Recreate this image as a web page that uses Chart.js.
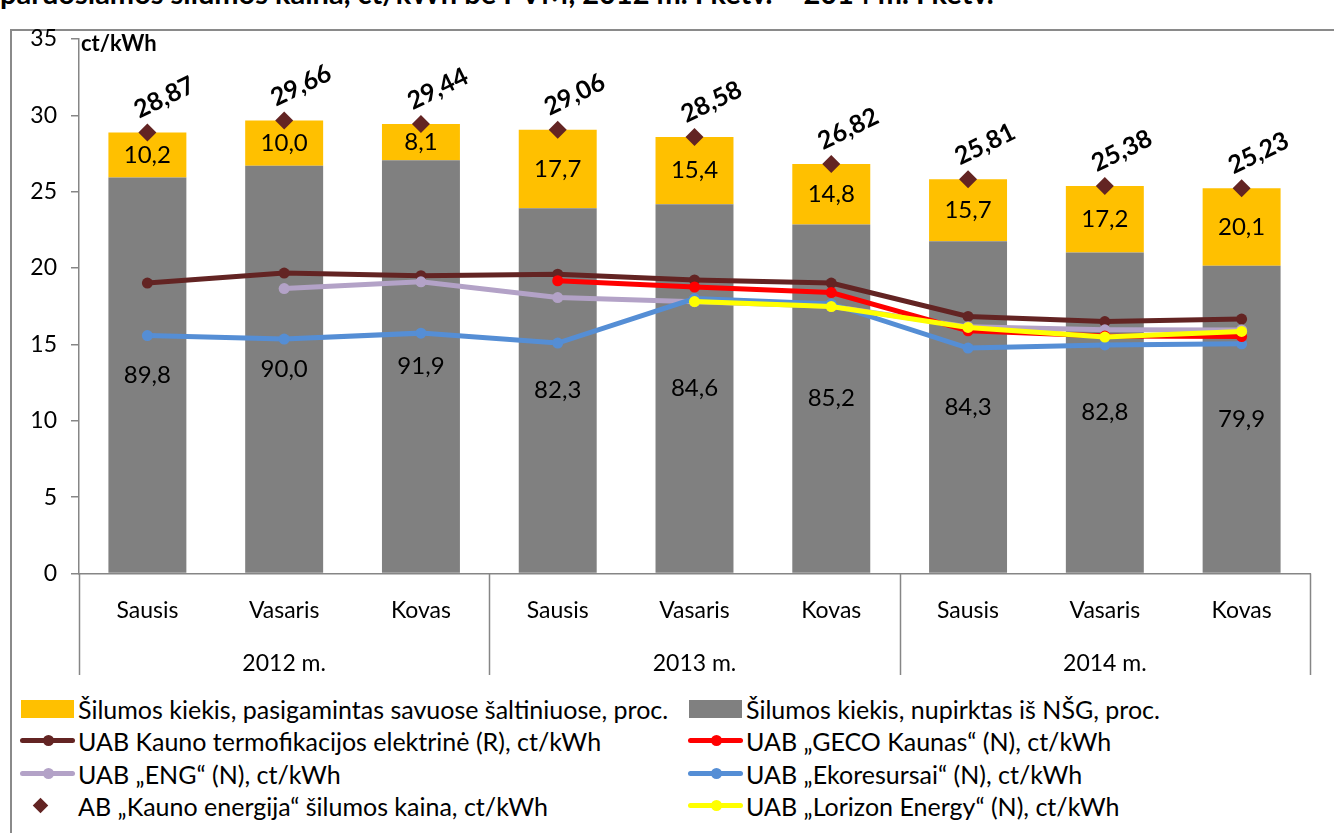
<!DOCTYPE html>
<html lang="lt">
<head>
<meta charset="utf-8">
<script src="https://cdn.jsdelivr.net/npm/chart.js@4.4.1/dist/chart.umd.min.js"></script>
<style>
    body { margin: 0; width: 1334px; height: 833px; overflow: hidden; background: #fff; position: relative; font-family: Lato, sans-serif; }
    #frame { position: absolute; left: 10px; top: 29px; width: 1400px; height: 900px; border: 2px solid #8a8a8a; }
    #title { position: absolute; left: 0; top: -22px; font-weight: bold; font-size: 29px; line-height: 30px; white-space: nowrap; }
    #chart { position: absolute; left: 0; top: 0; }
    #unit { position: absolute; left: 81px; top: 29px; font-weight: bold; font-size: 22px; }
    .lg { position: absolute; height: 30px; display: flex; align-items: center; font-size: 25px; white-space: nowrap; }
    .sym { position: relative; width: 55px; height: 30px; margin-right: 3px; flex: none; }
    .box { position: absolute; left: 1px; top: 6px; width: 53px; height: 18px; }
    .ln { position: absolute; left: 0; top: 12px; width: 55px; height: 5px; border-radius: 3px; }
    .dot { position: absolute; left: 23px; top: 9px; width: 11px; height: 11px; border-radius: 50%; }
    .dia { position: absolute; left: 15px; top: 9px; width: 11px; height: 11px; transform: rotate(45deg); }
</style>
</head>
<body>
<div id="frame"></div>
<div id="title">paruošiamos šilumos kaina, ct/kWh be PVM, 2012 m. I ketv. – 2014 m. I ketv.</div>
<canvas id="chart" width="1334" height="690"></canvas>
<div id="unit">ct/kWh</div>
<div id="legend"></div>
<script>
document.addEventListener('DOMContentLoaded', function() {
    // Data
    const months = ['Sausis', 'Vasaris', 'Kovas', 'Sausis', 'Vasaris', 'Kovas', 'Sausis', 'Vasaris', 'Kovas'];
    const years = ['2012 m.', '2013 m.', '2014 m.'];
    const yTicks = [0, 5, 10, 15, 20, 25, 30, 35];

    const price = [28.87, 29.66, 29.44, 29.06, 28.58, 26.82, 25.81, 25.38, 25.23];   // AB Kauno energija
    const ownShare = [10.2, 10.0, 8.1, 17.7, 15.4, 14.8, 15.7, 17.2, 20.1];         // proc.
    const boughtShare = [89.8, 90.0, 91.9, 82.3, 84.6, 85.2, 84.3, 82.8, 79.9];     // proc.

    const kte = [19.02, 19.67, 19.5, 19.6, 19.22, 19.02, 16.83, 16.5, 16.66];
    const geco = [null, null, null, 19.17, 18.76, 18.4, 15.89, 15.55, 15.52];
    const eng = [null, 18.66, 19.1, 18.07, 17.8, 17.5, 16.15, 15.96, 15.95];
    const eko = [15.58, 15.35, 15.74, 15.09, 18.0, 17.65, 14.76, 14.97, 15.04];
    const lorizon = [null, null, null, null, 17.81, 17.48, 16.11, 15.48, 15.85];

    const YELLOW = '#FFC000', GRAY = '#808080', BROWN = '#632423';
    const font = 'Lato';

    // bars are the price split by share
    const boughtPart = price.map((p, i) => p * boughtShare[i] / 100);
    const ownPart = price.map((p, i) => p * ownShare[i] / 100);

    const labels = months.map((m, i) => i % 3 === 1 ? [m, years[Math.floor(i / 3)]] : [m, '']);

    function lineSet(label, data, color, order) {
        return {
            type: 'line', label: label, data: data, stack: label, order: order,
            borderColor: color, backgroundColor: color, borderWidth: 5,
            pointRadius: 5.5, pointBorderWidth: 0, pointBackgroundColor: color,
            spanGaps: false, tension: 0
        };
    }

    const datasets = [
        { type: 'bar', label: 'Šilumos kiekis, nupirktas iš NŠG, proc.', data: boughtPart, pct: boughtShare,
          backgroundColor: GRAY, stack: 'bars', order: 20, barPercentage: 0.57, categoryPercentage: 1 },
        { type: 'bar', label: 'Šilumos kiekis, pasigamintas savuose šaltiniuose, proc.', data: ownPart, pct: ownShare,
          backgroundColor: YELLOW, stack: 'bars', order: 20, barPercentage: 0.57, categoryPercentage: 1 },
        lineSet('UAB Kauno termofikacijos elektrinė (R), ct/kWh', kte, BROWN, 7),
        lineSet('UAB „ENG“ (N), ct/kWh', eng, '#B3A2C7', 6),
        lineSet('UAB „Ekoresursai“ (N), ct/kWh', eko, '#558ED5', 5),
        lineSet('UAB „GECO Kaunas“ (N), ct/kWh', geco, '#FF0000', 4),
        lineSet('UAB „Lorizon Energy“ (N), ct/kWh', lorizon, '#FFFF00', 3),
        { type: 'line', label: 'AB „Kauno energija“ šilumos kaina, ct/kWh', data: price, stack: 'price', order: 1,
          showLine: false, pointStyle: 'rectRot', pointRadius: 9, pointBorderWidth: 0,
          pointBackgroundColor: BROWN, borderColor: BROWN, backgroundColor: BROWN }
    ];

    // value labels on bars and price points
    const valueLabels = {
        id: 'valueLabels',
        afterDatasetsDraw(chart) {
            const ctx = chart.ctx;
            ctx.save();
            ctx.fillStyle = '#000';
            ctx.textAlign = 'center';
            ctx.textBaseline = 'middle';
            ctx.font = '24px ' + font;
            [0, 1].forEach(di => {
                const ds = chart.data.datasets[di];
                chart.getDatasetMeta(di).data.forEach((bar, i) => {
                    ctx.fillText(ds.pct[i].toFixed(1).replace('.', ','), bar.x, (bar.y + bar.base) / 2);
                });
            });
            ctx.font = 'bold 25px ' + font;
            chart.getDatasetMeta(7).data.forEach((pt, i) => {
                ctx.save();
                ctx.translate(pt.x + 17, pt.y - 35);
                ctx.rotate(-26 * Math.PI / 180);
                ctx.fillText(price[i].toFixed(2).replace('.', ','), 0, 0);
                ctx.restore();
            });
            ctx.restore();
        }
    };

    // year group separators under the x axis
    const groupLines = {
        id: 'groupLines',
        afterDraw(chart) {
            const xs = chart.scales.x;
            const ctx = chart.ctx;
            const w = (xs.right - xs.left) / months.length;
            ctx.save();
            ctx.strokeStyle = '#868686';
            ctx.lineWidth = 1.5;
            for (let k = 0; k <= years.length; k++) {
                const x = Math.round(xs.left + k * 3 * w) + 0.5;
                ctx.beginPath();
                ctx.moveTo(x, chart.chartArea.bottom);
                ctx.lineTo(x, 675);
                ctx.stroke();
            }
            ctx.restore();
        }
    };

    new Chart(document.getElementById('chart'), {
        data: { labels: labels, datasets: datasets },
        plugins: [valueLabels, groupLines],
        options: {
            responsive: false,
            animation: false,
            events: [],
            layout: { padding: { left: 0, top: 39, right: 24, bottom: 0 } },
            plugins: { legend: { display: false }, tooltip: { enabled: false } },
            scales: {
                x: {
                    stacked: true,
                    grid: { display: false },
                    border: { color: '#868686', width: 1.5 },
                    ticks: { color: '#000', font: { family: font, size: 23, lineHeight: 2.3 }, padding: 3, maxRotation: 0, autoSkip: false },
                    afterFit: scale => { scale.height = 690 - 573.5; }
                },
                y: {
                    stacked: true,
                    min: 0, max: 35,
                    afterBuildTicks: scale => { scale.ticks = yTicks.map(v => ({ value: v })); },
                    grid: { drawOnChartArea: false, tickLength: 8, color: '#868686', lineWidth: 1.5 },
                    border: { color: '#868686', width: 1.5 },
                    ticks: { color: '#000', font: { family: font, size: 23 }, padding: 14 },
                    afterFit: scale => { scale.width = 79; }
                }
            }
        }
    });

    // Legend (two columns, same order as the original)
    const legendItems = [
        { text: datasets[1].label, kind: 'box', color: YELLOW },
        { text: datasets[0].label, kind: 'box', color: GRAY },
        { text: datasets[2].label, kind: 'line', color: BROWN },
        { text: datasets[5].label, kind: 'line', color: '#FF0000' },
        { text: datasets[3].label, kind: 'line', color: '#B3A2C7' },
        { text: datasets[4].label, kind: 'line', color: '#558ED5' },
        { text: datasets[7].label, kind: 'dia', color: BROWN },
        { text: datasets[6].label, kind: 'line', color: '#FFFF00' }
    ];
    const legend = document.getElementById('legend');
    legendItems.forEach((it, i) => {
        const el = document.createElement('div');
        el.className = 'lg';
        el.style.left = (i % 2 === 0 ? 20 : 688) + 'px';
        el.style.top = (694 + Math.floor(i / 2) * 32.3) + 'px';
        let sym = '';
        if (it.kind === 'box') sym = `<span class="box" style="background:${it.color}"></span>`;
        if (it.kind === 'line') sym = `<span class="ln" style="background:${it.color}"></span><span class="dot" style="background:${it.color}"></span>`;
        if (it.kind === 'dia') sym = `<span class="dia" style="background:${it.color}"></span>`;
        el.innerHTML = `<span class="sym">${sym}</span><span>${it.text}</span>`;
        legend.appendChild(el);
    });
});
</script>
</body>
</html>
